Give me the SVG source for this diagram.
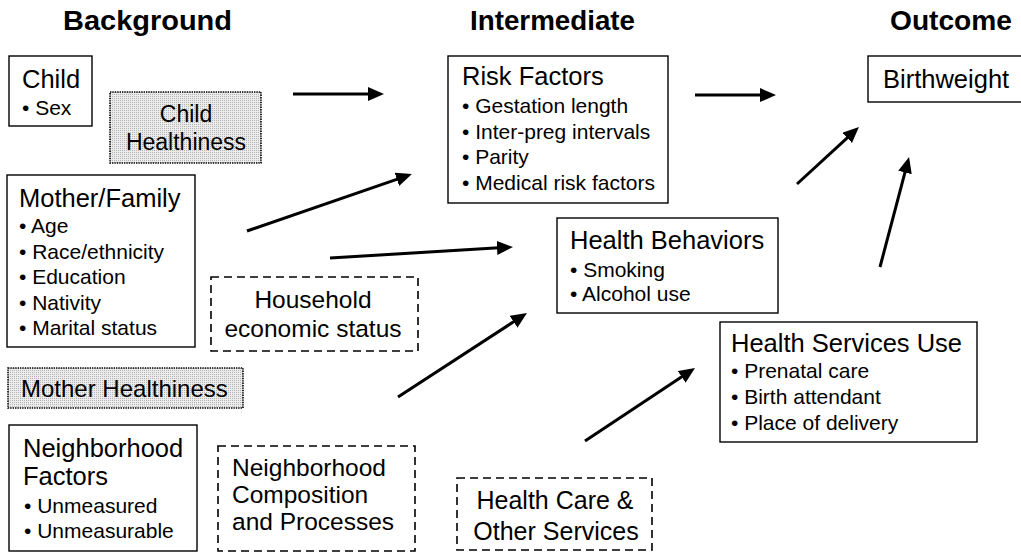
<svg xmlns="http://www.w3.org/2000/svg" width="1021" height="552" viewBox="0 0 1021 552">
<style>
text{font-family:"Liberation Sans",Arial,sans-serif;fill:#000}
.h{font-size:28px;font-weight:bold}
.t{font-size:25.5px}
.b{font-size:21px}
.m{font-size:24.5px}
.box{fill:#fff;stroke:#000;stroke-width:1.4}
.dash{fill:#fff;stroke:#000;stroke-width:1.6;stroke-dasharray:8 5}
.dot{fill:url(#stip);stroke:#000;stroke-width:1.6;stroke-dasharray:1.4 1}
.c{text-anchor:middle}
.arr{stroke:#000;stroke-width:3;fill:none;marker-end:url(#ah)}
</style>
<defs>
<pattern id="stip" width="2" height="2" patternUnits="userSpaceOnUse">
<rect width="2" height="2" fill="#ececec"/>
<rect width="1" height="1" fill="#b4b4b4"/>
</pattern>
<marker id="ah" markerUnits="userSpaceOnUse" markerWidth="18" markerHeight="16" refX="6" refY="7" orient="auto">
<path d="M0,0 L16,7 L0,14 z" fill="#000"/>
</marker>
</defs>
<rect width="1021" height="552" fill="#fff"/>
<g id="headings">
<text class="h" x="63" y="30" textLength="169" lengthAdjust="spacingAndGlyphs">Background</text>
<text class="h" x="470" y="30" textLength="165" lengthAdjust="spacingAndGlyphs">Intermediate</text>
<text class="h" x="890" y="30" textLength="122" lengthAdjust="spacingAndGlyphs">Outcome</text>
</g>
<g id="child">
<rect class="box" x="9" y="56" width="83" height="70"/>
<text class="t" x="22" y="88">Child</text>
<text class="b" x="22" y="115">• Sex</text>
</g>
<g id="child-healthiness">
<rect class="dot" x="110" y="92" width="151" height="71"/>
<text class="c" style="font-size:23px" x="186" y="122">Child</text>
<text class="c" style="font-size:23px" x="186" y="150">Healthiness</text>
</g>
<g id="mother-family">
<rect class="box" x="7" y="175" width="188" height="172"/>
<text class="t" x="19" y="207">Mother/Family</text>
<text class="b" x="19" y="233">• Age</text>
<text class="b" x="19" y="259">• Race/ethnicity</text>
<text class="b" x="19" y="284">• Education</text>
<text class="b" x="19" y="310">• Nativity</text>
<text class="b" x="19" y="335">• Marital status</text>
</g>
<g id="household">
<rect class="dash" x="211" y="277" width="207" height="74"/>
<text class="m c" x="313" y="308">Household</text>
<text class="m c" x="313" y="337">economic status</text>
</g>
<g id="mother-healthiness">
<rect class="dot" x="8" y="368" width="235" height="40"/>
<text x="21" y="397" style="font-size:24px">Mother Healthiness</text>
</g>
<g id="neighborhood-factors">
<rect class="box" x="9" y="425" width="188" height="126"/>
<text class="t" x="23" y="457">Neighborhood</text>
<text class="t" x="23" y="485">Factors</text>
<text class="b" x="24" y="513">• Unmeasured</text>
<text class="b" x="24" y="538">• Unmeasurable</text>
</g>
<g id="neighborhood-composition">
<rect class="dash" x="218" y="446" width="197" height="105"/>
<text class="m" x="232" y="476">Neighborhood</text>
<text class="m" x="232" y="503">Composition</text>
<text class="m" x="232" y="530">and Processes</text>
</g>
<g id="risk-factors">
<rect class="box" x="448" y="56" width="220" height="147"/>
<text class="t" x="462" y="85">Risk Factors</text>
<text class="b" x="462" y="113">• Gestation length</text>
<text class="b" x="462" y="139">• Inter-preg intervals</text>
<text class="b" x="462" y="164">• Parity</text>
<text class="b" x="462" y="190">• Medical risk factors</text>
</g>
<g id="birthweight">
<rect class="box" x="868" y="56" width="170" height="46"/>
<text class="t" x="883" y="88">Birthweight</text>
</g>
<g id="health-behaviors">
<rect class="box" x="557" y="218" width="221" height="95"/>
<text class="t" x="570" y="249">Health Behaviors</text>
<text class="b" x="570" y="277">• Smoking</text>
<text class="b" x="570" y="301">• Alcohol use</text>
</g>
<g id="health-services-use">
<rect class="box" x="720" y="322" width="257" height="120"/>
<text class="t" x="731" y="352">Health Services Use</text>
<text class="b" x="731" y="378">• Prenatal care</text>
<text class="b" x="731" y="404">• Birth attendant</text>
<text class="b" x="731" y="430">• Place of delivery</text>
</g>
<g id="health-care">
<rect class="dash" x="457" y="478" width="195" height="72"/>
<text class="c" style="font-size:25px" x="555" y="509">Health Care &amp;</text>
<text class="c" style="font-size:25px" x="556" y="540">Other Services</text>
</g>
<g id="connectors">
<line class="arr" x1="293" y1="94" x2="374" y2="94"/>
<line class="arr" x1="695" y1="95" x2="766" y2="95"/>
<line class="arr" x1="247" y1="231" x2="402.5" y2="177.3"/>
<line class="arr" x1="330" y1="258" x2="503" y2="247.6"/>
<line class="arr" x1="398" y1="397" x2="518.6" y2="318.5"/>
<line class="arr" x1="585" y1="441" x2="686.7" y2="373.5"/>
<line class="arr" x1="797" y1="184" x2="851.6" y2="133.8"/>
<line class="arr" x1="880" y1="267" x2="906.5" y2="166.7"/>
</g>
</svg>
